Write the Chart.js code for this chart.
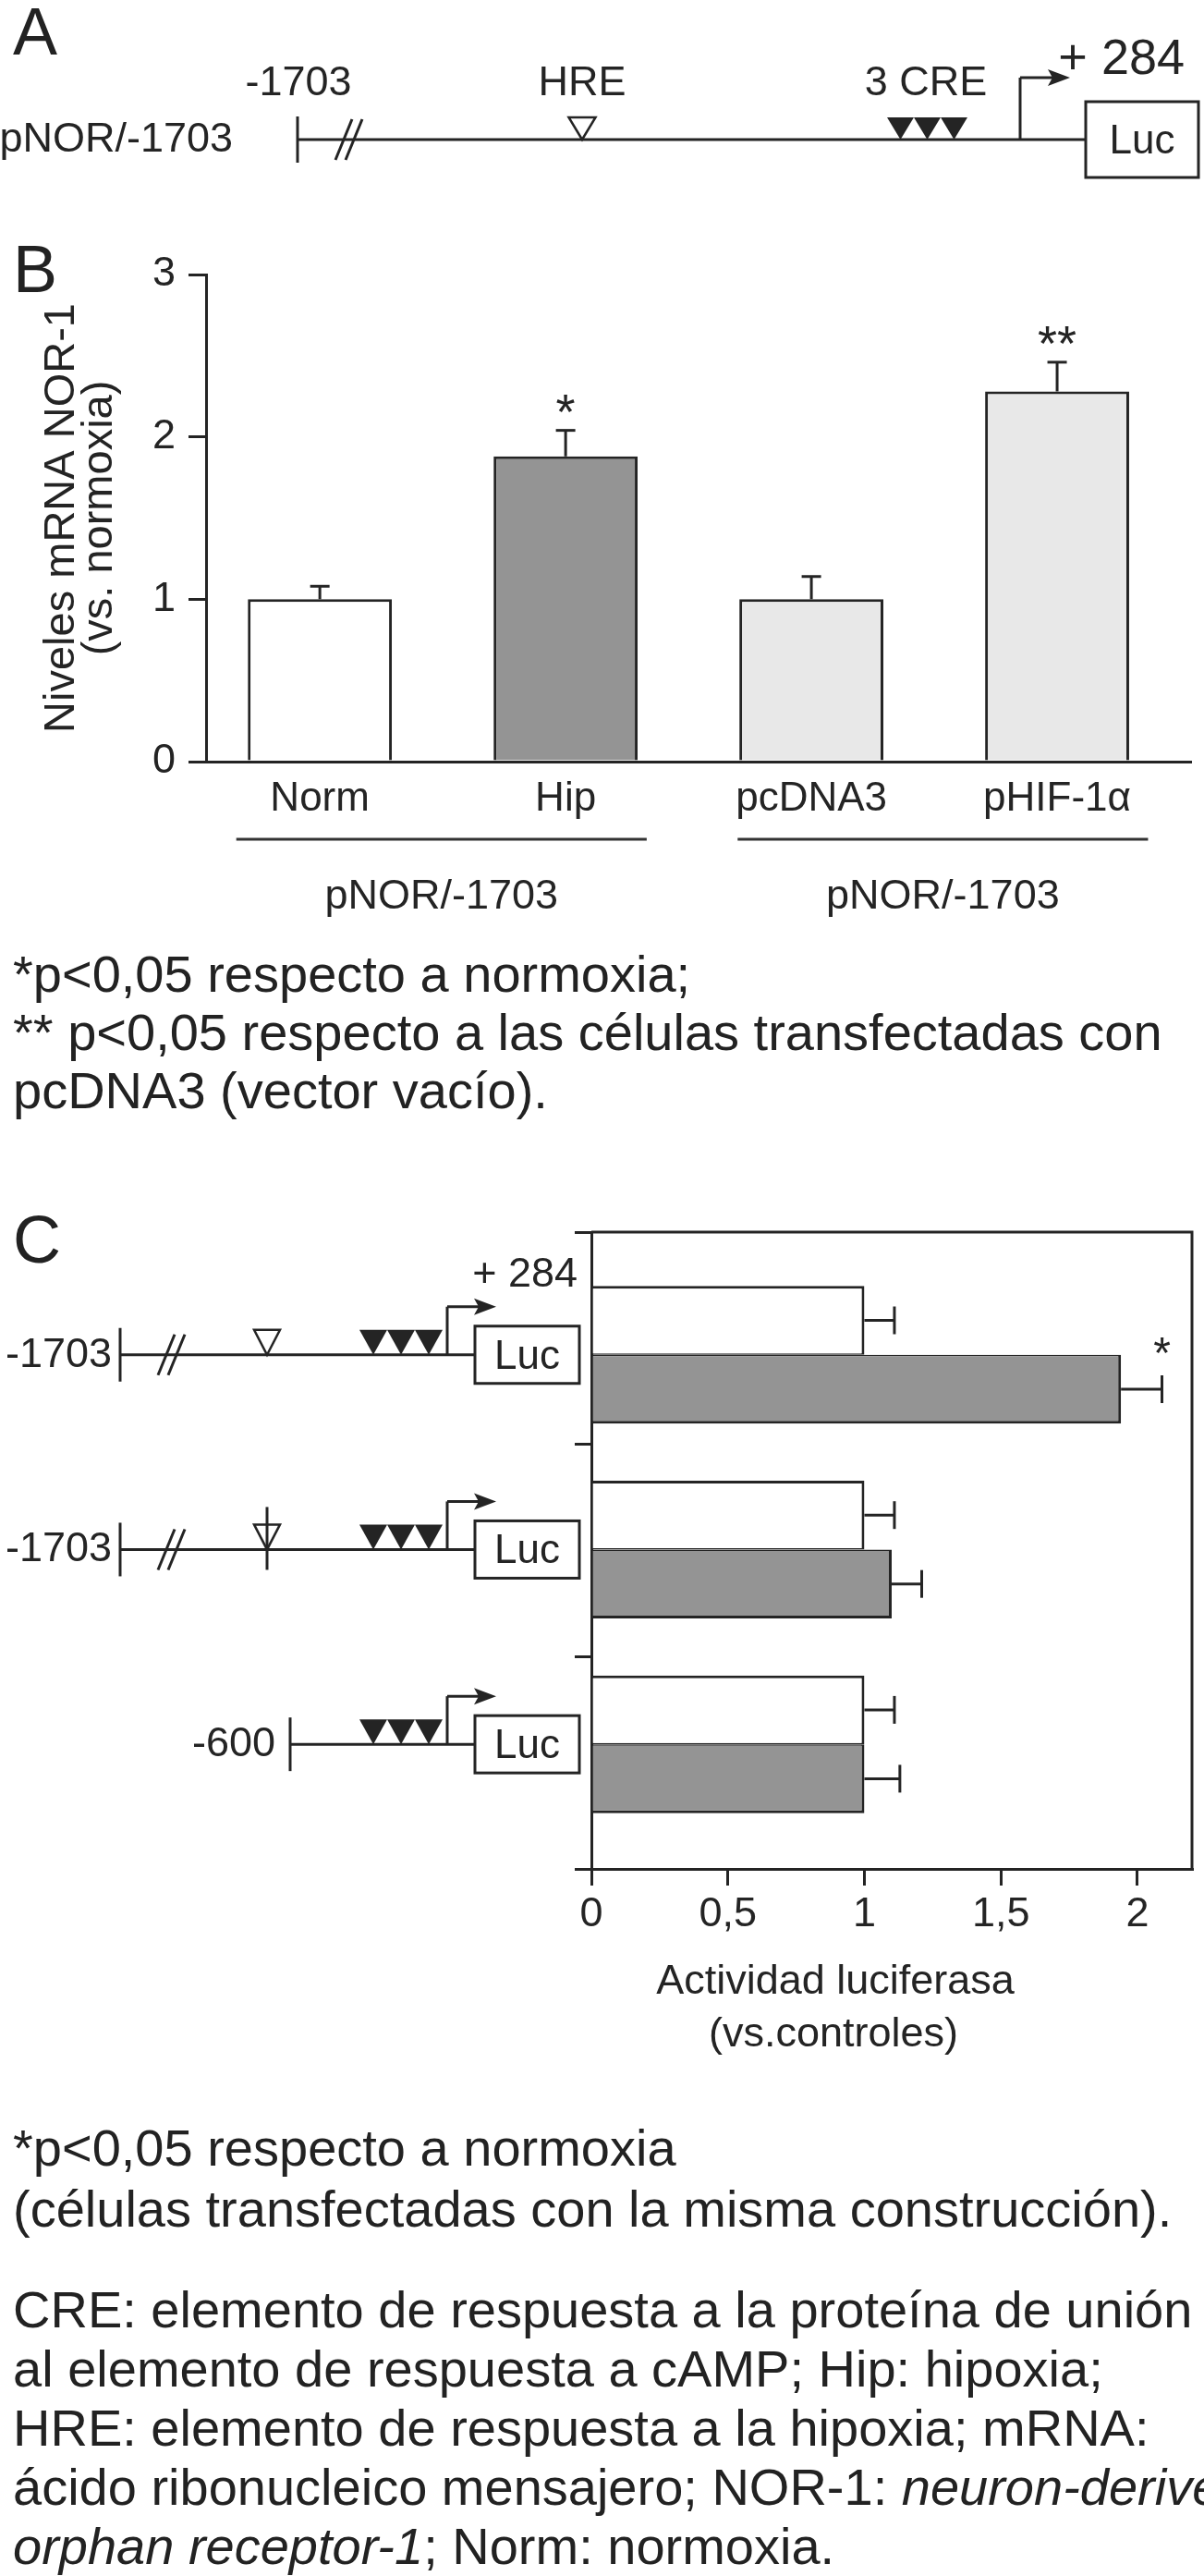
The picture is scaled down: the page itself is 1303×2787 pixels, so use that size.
<!DOCTYPE html>
<html>
<head>
<meta charset="utf-8">
<script src="https://cdn.jsdelivr.net/npm/chart.js@4.4.0/dist/chart.umd.min.js"></script>
<style>
html, body { margin: 0; padding: 0; background: #fff; }
body { width: 1303px; height: 2787px; position: relative; overflow: hidden;
       font-family: 'Liberation Sans', Arial, sans-serif; color: #222; }
canvas { position: absolute; left: 0; }
.letter { position: absolute; left: 14px; font-size: 72px; line-height: 72px; }
.note { position: absolute; left: 14px; font-size: 56px; white-space: nowrap; }
</style>
</head>
<body>

<div class="letter" style="top:-2px">A</div>
<div class="letter" style="top:255px">B</div>
<div class="letter" style="top:1305px">C</div>

<canvas id="diagA" width="1303" height="210" style="top:0"></canvas>
<canvas id="chartB" width="1303" height="750" style="top:250px"></canvas>
<canvas id="chartC" width="1303" height="960" style="top:1290px"></canvas>

<div class="note" style="top:1022px; line-height:63px">*p&lt;0,05 respecto a normoxia;<br>** p&lt;0,05 respecto a las células transfectadas con<br>pcDNA3 (vector vacío).</div>

<div class="note" style="top:2291px; line-height:66px">*p&lt;0,05 respecto a normoxia<br>(células transfectadas con la misma construcción).</div>

<div class="note" style="top:2467px; line-height:64px">CRE: elemento de respuesta a la proteína de unión<br>al elemento de respuesta a cAMP; Hip: hipoxia;<br>HRE: elemento de respuesta a la hipoxia; mRNA:<br>ácido ribonucleico mensajero; NOR-1: <i>neuron-derived</i><br><i>orphan receptor-1</i>; Norm: normoxia.</div>

<script>
// panel B: NOR-1 mRNA vs normoxia
var bLabels = ['Norm', 'Hip', 'pcDNA3', 'pHIF-1α'];
var bValues = [1.0, 1.88, 1.0, 2.28];
var bErrors = [0.08, 0.16, 0.14, 0.18];
var bStars = ['', '*', '', '**'];
var bColors = ['#ffffff', '#949494', '#e8e8e8', '#e8e8e8'];
var bGroupLabels = ['pNOR/-1703', 'pNOR/-1703'];
var bGroupSpans = [[-0.34, 1.33], [1.70, 3.37]];

// panel C: luciferase activity, normoxia (white) vs hypoxia (grey)
var cRowLabels = ['-1703', '-1703', '-600'];
var cNormoxia = [1.0, 1.0, 1.0];
var cNormoxiaErr = [0.11, 0.11, 0.11];
var cHipoxia = [1.94, 1.10, 1.0];
var cHipoxiaErr = [0.15, 0.11, 0.13];
var cStars = ['*', '', ''];
var cTicks = [0, 0.5, 1, 1.5, 2];
var cBounds = [-0.63, 0.46, 1.55, 2.64];

var ink = '#242424';
var family = "'Liberation Sans', Arial, sans-serif";
Chart.defaults.font.family = family;
Chart.defaults.color = ink;

function seg(ctx, x1, y1, x2, y2) {
    ctx.beginPath()
    ctx.moveTo(x1, y1)
    ctx.lineTo(x2, y2)
    ctx.stroke()
}

// promoter construct: line, HRE, 3 CRE, start arrow, Luc box
function drawConstruct(ctx, y, c) {
    ctx.save()
    ctx.strokeStyle = ink
    ctx.fillStyle = ink
    ctx.lineWidth = 3
    seg(ctx, c.start, y, c.box, y)
    seg(ctx, c.start, y - c.tick, c.start, y + c.tick)
    if (c.slash) {
        seg(ctx, c.slash - 9, y + 22, c.slash + 9, y - 22)
        seg(ctx, c.slash + 2, y + 22, c.slash + 20, y - 22)
    }
    if (c.hre) {
        ctx.beginPath()
        ctx.moveTo(c.hre - c.hw / 2, y - c.th)
        ctx.lineTo(c.hre + c.hw / 2, y - c.th)
        ctx.lineTo(c.hre, y)
        ctx.closePath()
        ctx.fillStyle = '#fff'
        ctx.fill()
        ctx.lineWidth = 2.5
        ctx.stroke()
        ctx.fillStyle = ink
        ctx.lineWidth = 3
        if (c.mut) seg(ctx, c.hre, y - 46, c.hre, y + 22)
    }
    for (var k = 0; k < 3; k++) {
        var x = c.cre + k * c.tw
        ctx.beginPath()
        ctx.moveTo(x, y - c.th)
        ctx.lineTo(x + c.tw, y - c.th)
        ctx.lineTo(x + c.tw / 2, y)
        ctx.closePath()
        ctx.fill()
    }
    var ay = y - c.arrowH
    seg(ctx, c.arrow, y, c.arrow, ay)
    seg(ctx, c.arrow, ay, c.tip - 18, ay)
    ctx.beginPath()
    ctx.moveTo(c.tip, ay)
    ctx.lineTo(c.tip - 24, ay - 9)
    ctx.lineTo(c.tip - 19, ay)
    ctx.lineTo(c.tip - 24, ay + 9)
    ctx.closePath()
    ctx.fill()
    ctx.fillStyle = '#fff'
    ctx.fillRect(c.box, y - c.bh / 2, c.bw, c.bh)
    ctx.fillStyle = ink
    ctx.strokeRect(c.box, y - c.bh / 2, c.bw, c.bh)
    ctx.font = '44px ' + family
    ctx.textAlign = 'center'
    ctx.textBaseline = 'alphabetic'
    ctx.fillText('Luc', c.box + c.bw / 2, y + 15)
    ctx.font = '45px ' + family
    ctx.textAlign = 'right'
    ctx.fillText(c.label, c.labelRight, y + 13)
    ctx.restore()
}

// panel A (plain diagram)
var ctxA = document.getElementById('diagA').getContext('2d')
drawConstruct(ctxA, 151, {
    start: 322, tick: 25, slash: 372, hre: 630, hw: 29, th: 24, mut: false,
    cre: 960, tw: 29, arrow: 1104, arrowH: 67, tip: 1158,
    box: 1175, bw: 122, bh: 82, label: 'pNOR/-1703', labelRight: 252
})
ctxA.fillStyle = ink
ctxA.font = '45px ' + family
ctxA.textAlign = 'center'
ctxA.fillText('-1703', 323, 103)
ctxA.fillText('HRE', 630, 103)
ctxA.fillText('3 CRE', 1002, 103)
ctxA.font = '54px ' + family
ctxA.textAlign = 'right'
ctxA.fillText('+ 284', 1282, 80)

var errorBars = {
    id: 'errorBars',
    afterDatasetsDraw: function(chart, args, opts) {
        var ctx = chart.ctx
        var horiz = chart.options.indexAxis === 'y'
        var vScale = horiz ? chart.scales.x : chart.scales.y
        chart.data.datasets.forEach(function(ds, di) {
            var meta = chart.getDatasetMeta(di)
            meta.data.forEach(function(bar, i) {
                var p = meta.controller.getParsed(i)
                var v = horiz ? p.x : p.y
                var a = vScale.getPixelForValue(v)
                var b = vScale.getPixelForValue(v + ds.errors[i])
                ctx.save()
                ctx.strokeStyle = ink
                ctx.lineWidth = 3
                if (horiz) {
                    seg(ctx, a, bar.y, b, bar.y)
                    seg(ctx, b, bar.y - opts.cap, b, bar.y + opts.cap)
                } else {
                    seg(ctx, bar.x, a, bar.x, b)
                    seg(ctx, bar.x - opts.cap, b, bar.x + opts.cap, b)
                }
                var star = ds.stars && ds.stars[i]
                if (star) {
                    ctx.fillStyle = ink
                    ctx.textAlign = 'center'
                    ctx.textBaseline = 'alphabetic'
                    ctx.font = opts.starSize + 'px ' + family
                    if (horiz) ctx.fillText(star, b, bar.y - opts.cap - 8)
                    else ctx.fillText(star, bar.x, b - 2)
                }
                ctx.restore()
            })
        })
    }
}

var bGroups = {
    id: 'bGroups',
    afterDraw: function(chart) {
        var ctx = chart.ctx, x = chart.scales.x, bottom = chart.chartArea.bottom
        ctx.save()
        ctx.strokeStyle = '#333'
        ctx.lineWidth = 3
        ctx.fillStyle = ink
        ctx.font = '45px ' + family
        ctx.textAlign = 'center'
        bGroupSpans.forEach(function(span, i) {
            var a = x.getPixelForValue(span[0]), b = x.getPixelForValue(span[1])
            seg(ctx, a, bottom + 84, b, bottom + 84)
            ctx.fillText(bGroupLabels[i], (a + b) / 2, bottom + 159)
        })
        ctx.restore()
    }
}

new Chart(document.getElementById('chartB'), {
    type: 'bar',
    data: {
        datasets: [{
            data: bValues.map(function(v, i) { return {x: i, y: v} }),
            backgroundColor: bColors,
            borderColor: ink,
            borderWidth: 3,
            barPercentage: 1,
            categoryPercentage: 0.586,
            errors: bErrors,
            stars: bStars
        }]
    },
    options: {
        responsive: false,
        animation: false,
        layout: { padding: { left: 0, right: 14, top: 47, bottom: 0 } },
        plugins: {
            legend: { display: false },
            tooltip: { enabled: false },
            errorBars: { cap: 10.5, starSize: 54 }
        },
        scales: {
            x: {
                type: 'linear',
                offset: false,
                min: -0.463,
                max: 3.545,
                afterBuildTicks: function(s) { s.ticks = bLabels.map(function(l, i) { return {value: i} }) },
                ticks: { callback: function(v) { return bLabels[v] }, font: { size: 44 }, padding: 14, maxRotation: 0 },
                grid: { display: false, drawTicks: false, offset: false },
                border: { color: ink, width: 3 },
                afterFit: function(s) { s.height = 176 }
            },
            y: {
                min: 0,
                max: 3,
                ticks: { stepSize: 1, font: { size: 45 }, padding: 14 },
                grid: { drawOnChartArea: false, tickLength: 19, color: ink, lineWidth: 3 },
                border: { color: ink, width: 3 },
                title: {
                    display: true,
                    text: ['Niveles mRNA NOR-1', '(vs. normoxia)'],
                    font: { size: 47, lineHeight: 0.86 },
                    padding: { top: 47, bottom: 0 }
                },
                afterFit: function(s) { s.width = 223 }
            }
        }
    },
    plugins: [errorBars, bGroups]
})

var cRows = [
    { start: 130, slash: 180, hre: 289, mut: false, labelRight: 121 },
    { start: 130, slash: 180, hre: 289, mut: true, labelRight: 121 },
    { start: 314, slash: null, hre: null, mut: false, labelRight: 298 }
]

var cDecor = {
    id: 'cDecor',
    afterDraw: function(chart) {
        var ctx = chart.ctx, a = chart.chartArea, y = chart.scales.y
        ctx.save()
        ctx.strokeStyle = ink
        ctx.lineWidth = 3
        ctx.beginPath()
        ctx.moveTo(a.left, a.top)
        ctx.lineTo(a.right, a.top)
        ctx.lineTo(a.right, a.bottom)
        ctx.stroke()
        cRows.forEach(function(r, i) {
            drawConstruct(ctx, y.getPixelForValue(i), {
                start: r.start, tick: 29, slash: r.slash, hre: r.hre, hw: 28, th: 27, mut: r.mut,
                cre: 389, tw: 30, arrow: 484, arrowH: 52, tip: 537,
                box: 514, bw: 113, bh: 62, label: cRowLabels[i], labelRight: r.labelRight
            })
        })
        ctx.fillStyle = ink
        ctx.font = '45px ' + family
        ctx.textAlign = 'right'
        ctx.fillText('+ 284', 625, y.getPixelForValue(0) - 74)
        ctx.textAlign = 'center'
        ctx.fillText('Actividad luciferasa', 904, a.bottom + 135)
        ctx.fillText('(vs.controles)', 902, a.bottom + 192)
        ctx.restore()
    }
}

new Chart(document.getElementById('chartC'), {
    type: 'bar',
    data: {
        datasets: [{
            data: cNormoxia.map(function(v, i) { return {x: v, y: i} }),
            backgroundColor: '#ffffff',
            borderColor: ink,
            borderWidth: { top: 3, right: 3, bottom: 1.5, left: 0 },
            barPercentage: 1,
            categoryPercentage: 0.707,
            errors: cNormoxiaErr
        }, {
            data: cHipoxia.map(function(v, i) { return {x: v, y: i} }),
            backgroundColor: '#949494',
            borderColor: ink,
            borderWidth: { top: 1.5, right: 3, bottom: 3, left: 0 },
            barPercentage: 1,
            categoryPercentage: 0.707,
            errors: cHipoxiaErr,
            stars: cStars
        }]
    },
    options: {
        indexAxis: 'y',
        responsive: false,
        animation: false,
        layout: { padding: { left: 0, right: 13, top: 43, bottom: 0 } },
        plugins: {
            legend: { display: false },
            tooltip: { enabled: false },
            errorBars: { cap: 15, starSize: 48 }
        },
        scales: {
            x: {
                type: 'linear',
                min: 0,
                max: 2.2,
                afterBuildTicks: function(s) { s.ticks = cTicks.map(function(v) { return {value: v} }) },
                ticks: { callback: function(v) { return String(v).replace('.', ',') }, font: { size: 45 }, padding: 5, maxRotation: 0 },
                grid: { drawOnChartArea: false, tickLength: 18, color: ink, lineWidth: 3 },
                border: { color: ink, width: 3 },
                afterFit: function(s) { s.height = 228 }
            },
            y: {
                type: 'linear',
                offset: false,
                reverse: true,
                min: cBounds[0],
                max: cBounds[cBounds.length - 1],
                afterBuildTicks: function(s) { s.ticks = cBounds.map(function(v) { return {value: v} }) },
                ticks: { display: false },
                grid: { drawOnChartArea: false, tickLength: 18, color: ink, lineWidth: 3, offset: false },
                border: { color: ink, width: 3 },
                afterFit: function(s) { s.width = 640 }
            }
        }
    },
    plugins: [errorBars, cDecor]
})
</script>
</body>
</html>
